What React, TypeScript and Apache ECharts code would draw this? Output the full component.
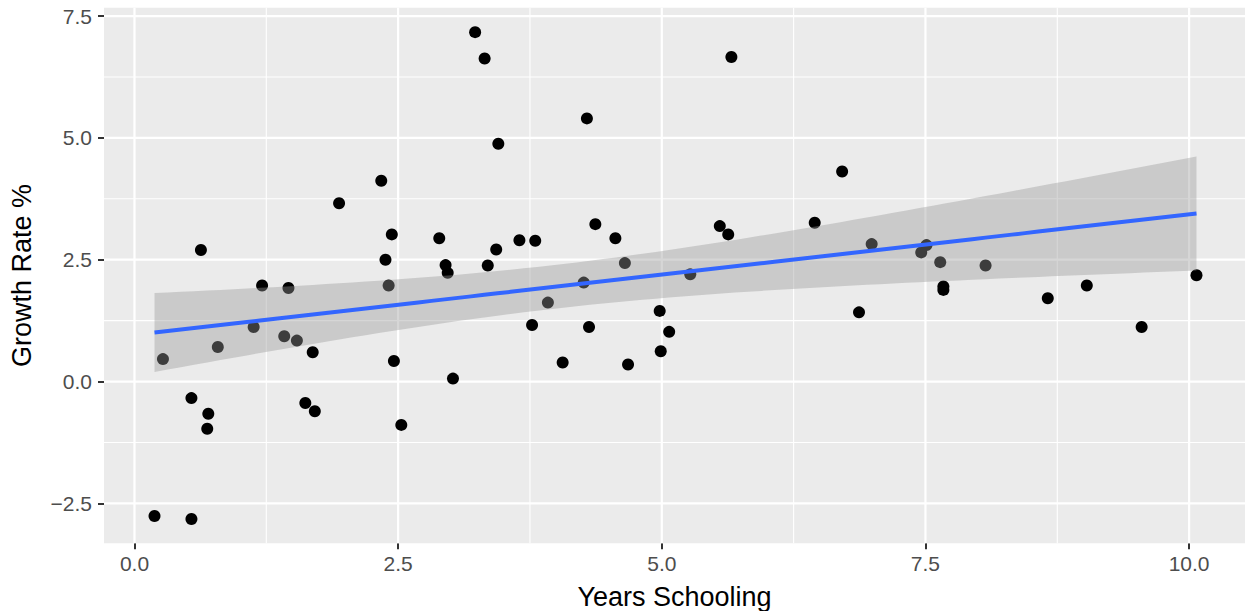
import React, { useEffect, useRef } from "react";
import * as echarts from "echarts";

const yearsSchooling = [
  0.19, 0.27, 0.54, 0.54, 0.63, 0.7, 0.69, 0.79, 1.13, 1.21, 1.42, 1.46, 1.54, 1.62, 1.69, 1.71,
  1.94, 2.34, 2.38, 2.41, 2.44, 2.46, 2.53, 2.89, 2.95, 2.97, 3.02, 3.23, 3.32, 3.35, 3.43, 3.45,
  3.65, 3.77, 3.8, 3.92, 4.06, 4.26, 4.29, 4.31, 4.37, 4.56, 4.65, 4.68, 4.98, 4.99, 5.07, 5.27,
  5.55, 5.63, 5.66, 6.45, 6.71, 6.87, 6.99, 7.46, 7.51, 7.64, 7.67, 7.67, 8.07, 8.66, 9.03, 9.55,
  10.07,
];
const growthRate = [
  -2.76, 0.46, -0.34, -2.82, 2.7, -0.66, -0.97, 0.71, 1.12, 1.97, 0.93, 1.92, 0.84, -0.44, 0.6, -0.61,
  3.66, 4.12, 2.5, 1.97, 3.02, 0.42, -0.89, 2.94, 2.39, 2.23, 0.06, 7.17, 6.63, 2.38, 2.71, 4.88,
  2.9, 1.16, 2.89, 1.62, 0.39, 2.03, 5.4, 1.12, 3.23, 2.94, 2.43, 0.35, 1.45, 0.62, 1.02, 2.2,
  3.19, 3.02, 6.66, 3.26, 4.31, 1.42, 2.82, 2.65, 2.8, 2.45, 1.95, 1.88, 2.38, 1.71, 1.97, 1.12,
  2.18,
];

const xMajorTicks = [0, 2.5, 5, 7.5, 10];
const xMinorTicks = [1.25, 3.75, 6.25, 8.75];
const yMajorTicks = [-2.5, 0, 2.5, 5, 7.5];
const yMinorTicks = [-1.25, 1.25, 3.75, 6.25];

const X_MIN = -0.289;
const X_MAX = 10.53;
const Y_MIN = -3.32;
const Y_MAX = 7.67;

const FONT = "Liberation Sans, Arial, sans-serif";

const fmt = (v: number) => {
  const s = Math.abs(v).toFixed(1);
  return v < 0 ? "\u2212" + s : s;
};

function fitLm(xs: number[], ys: number[]) {
  const n = xs.length;
  const mx = xs.reduce((a, b) => a + b, 0) / n;
  const my = ys.reduce((a, b) => a + b, 0) / n;
  let sxx = 0, sxy = 0;
  for (let i = 0; i < n; i++) {
    sxx += (xs[i] - mx) ** 2;
    sxy += (xs[i] - mx) * (ys[i] - my);
  }
  const b = sxy / sxx;
  const a = my - b * mx;
  let sse = 0;
  for (let i = 0; i < n; i++) sse += (ys[i] - a - b * xs[i]) ** 2;
  const s = Math.sqrt(sse / (n - 2));
  const t = 1.9983;
  const lo = Math.min(...xs);
  const hi = Math.max(...xs);
  const line: number[][] = [];
  const upper: number[][] = [];
  const lower: number[][] = [];
  const steps = 80;
  for (let k = 0; k < steps; k++) {
    const x = lo + ((hi - lo) * k) / (steps - 1);
    const yh = a + b * x;
    const se = s * Math.sqrt(1 / n + (x - mx) ** 2 / sxx);
    line.push([x, yh]);
    upper.push([x, yh + t * se]);
    lower.push([x, yh - t * se]);
  }
  return { line, upper, lower };
}

export default function App() {
  const ref = useRef<HTMLDivElement>(null);
  useEffect(() => {
    if (!ref.current) return;
    const chart = echarts.init(ref.current, undefined, { renderer: "svg" });
    const pts = yearsSchooling.map((x, i) => [x, growthRate[i]]);
    const fit = fitLm(yearsSchooling, growthRate);
    const band = fit.upper.concat(fit.lower.slice().reverse());

    const gridSeries = (vals: number[], dir: "x" | "y", width: number) => ({
      type: "custom",
      silent: true,
      z: 1,
      data: vals.map((v) => [v]),
      renderItem: (params: any, api: any) => {
        const v = api.value(0);
        const p1 = dir === "x" ? api.coord([v, Y_MIN]) : api.coord([X_MIN, v]);
        const p2 = dir === "x" ? api.coord([v, Y_MAX]) : api.coord([X_MAX, v]);
        return {
          type: "line",
          shape: { x1: p1[0], y1: p1[1], x2: p2[0], y2: p2[1] },
          style: { stroke: "#FFFFFF", lineWidth: width },
        };
      },
    });

    chart.setOption({
      animation: false,
      textStyle: { fontFamily: FONT },
      grid: {
        left: 104,
        top: 7.8,
        right: 0,
        bottom: 67.7,
        show: true,
        backgroundColor: "#EBEBEB",
        borderWidth: 0,
        containLabel: false,
        outerBoundsMode: "none",
      },
      xAxis: {
        type: "value",
        min: X_MIN,
        max: X_MAX,
        splitLine: { show: false },
        axisLine: { show: false, onZero: false },
        axisTick: {
          show: true,
          customValues: xMajorTicks,
          length: 6,
          lineStyle: { color: "#333333", width: 2 },
        },
        axisLabel: {
          customValues: xMajorTicks,
          formatter: (v: number) => fmt(v),
          color: "#4D4D4D",
          fontSize: 21,
          margin: 10,
          fontFamily: FONT,
        },
        name: "Years Schooling",
        nameLocation: "middle",
        nameGap: 40,
        nameTextStyle: { color: "#000000", fontSize: 27, fontFamily: FONT },
      },
      yAxis: {
        type: "value",
        min: Y_MIN,
        max: Y_MAX,
        splitLine: { show: false },
        axisLine: { show: false, onZero: false },
        axisTick: {
          show: true,
          customValues: yMajorTicks,
          length: 6,
          lineStyle: { color: "#333333", width: 2 },
        },
        axisLabel: {
          customValues: yMajorTicks,
          formatter: (v: number) => fmt(v),
          color: "#4D4D4D",
          fontSize: 21,
          margin: 12,
          fontFamily: FONT,
        },
        name: "Growth Rate %",
        nameLocation: "middle",
        nameRotate: 90,
        nameGap: 69,
        nameTextStyle: { color: "#000000", fontSize: 27, fontFamily: FONT },
      },
      series: [
        gridSeries(xMinorTicks, "x", 1.1),
        gridSeries(yMinorTicks, "y", 1.1),
        gridSeries(xMajorTicks, "x", 2.2),
        gridSeries(yMajorTicks, "y", 2.2),
        {
          type: "scatter",
          z: 2,
          data: pts,
          symbolSize: 12,
          itemStyle: { color: "#000000", opacity: 1 },
        },
        {
          type: "custom",
          z: 3,
          silent: true,
          data: [[0]],
          renderItem: (params: any, api: any) => ({
            type: "polygon",
            shape: { points: band.map((p) => api.coord(p)) },
            style: { fill: "rgba(153,153,153,0.4)" },
          }),
        },
        {
          type: "line",
          z: 4,
          data: fit.line,
          showSymbol: false,
          symbol: "none",
          lineStyle: { color: "#3366FF", width: 4 },
        },
      ],
    });
    return () => chart.dispose();
  }, []);
  return (
    <div
      ref={ref}
      style={{ position: "fixed", left: 0, top: 0, width: 1245, height: 611, background: "#FFFFFF" }}
    />
  );
}
